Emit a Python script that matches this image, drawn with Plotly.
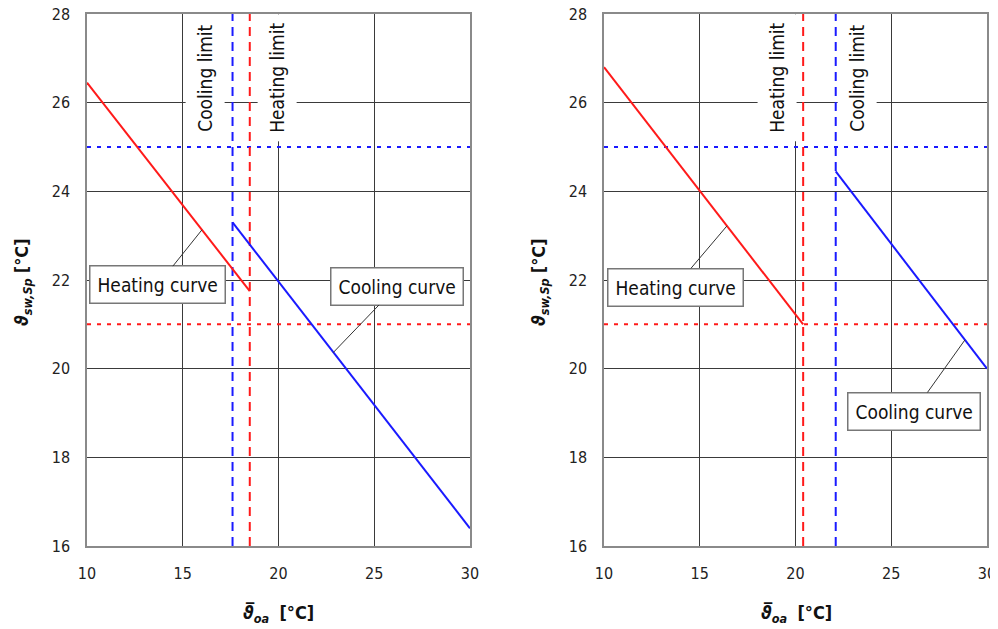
import plotly.graph_objects as go

# ---------------- data ----------------
x_range = [10, 30]
y_range = [16, 28]
x_ticks = [10, 15, 20, 25, 30]
y_ticks = [16, 18, 20, 22, 24, 26, 28]

heating_setpoint = 21
cooling_setpoint = 25

# left chart
heat_left_x = [10, 18.5]
heat_left_y = [26.45, 21.75]
cool_left_x = [17.6, 30]
cool_left_y = [23.3, 16.4]
heat_limit_left = 18.5
cool_limit_left = 17.6

# right chart
heat_right_x = [10, 20.4]
heat_right_y = [26.8, 21.0]
cool_right_x = [22.1, 30]
cool_right_y = [24.45, 20.0]
heat_limit_right = 20.4
cool_limit_right = 22.1

RED = "#ff1a1a"
BLUE = "#1a1aff"
FONT = "DejaVu Sans Condensed, DejaVu Sans, sans-serif"

# page body has an 8px margin; the figure is sized to fit the window
W, H = 990, 621
OFF = 8


def fx(px):
    return (px - OFF) / W


def fy(py):
    return 1 - (py - OFF) / H


fig = go.Figure()


def add_panel(xa, ya, hx, hy, cx, cy, hlim, clim):
    xr = "x" if xa == 1 else f"x{xa}"
    yr = "y" if ya == 1 else f"y{ya}"
    # setpoint dotted lines
    fig.add_trace(go.Scatter(x=x_range, y=[cooling_setpoint] * 2, mode="lines",
                             line=dict(color=BLUE, width=2, dash="4px,6px"),
                             xaxis=xr, yaxis=yr, showlegend=False, hoverinfo="skip"))
    fig.add_trace(go.Scatter(x=x_range, y=[heating_setpoint] * 2, mode="lines",
                             line=dict(color=RED, width=2, dash="4px,6px"),
                             xaxis=xr, yaxis=yr, showlegend=False, hoverinfo="skip"))
    # limits
    fig.add_trace(go.Scatter(x=[clim, clim], y=y_range, mode="lines",
                             line=dict(color=BLUE, width=2, dash="9px,6px"),
                             xaxis=xr, yaxis=yr, showlegend=False, hoverinfo="skip"))
    fig.add_trace(go.Scatter(x=[hlim, hlim], y=y_range, mode="lines",
                             line=dict(color=RED, width=2, dash="9px,6px"),
                             xaxis=xr, yaxis=yr, showlegend=False, hoverinfo="skip"))
    # curves
    fig.add_trace(go.Scatter(x=hx, y=hy, mode="lines", line=dict(color=RED, width=2),
                             xaxis=xr, yaxis=yr, showlegend=False, hoverinfo="skip"))
    fig.add_trace(go.Scatter(x=cx, y=cy, mode="lines", line=dict(color=BLUE, width=2),
                             xaxis=xr, yaxis=yr, showlegend=False, hoverinfo="skip"))


add_panel(1, 1, heat_left_x, heat_left_y, cool_left_x, cool_left_y, heat_limit_left, cool_limit_left)
add_panel(2, 2, heat_right_x, heat_right_y, cool_right_x, cool_right_y, heat_limit_right, cool_limit_right)

axis_common = dict(range=x_range, tickvals=x_ticks, showgrid=True, gridcolor="#3a3a3a", gridwidth=1,
                   showline=True, linecolor="#8a8a8a", linewidth=1.5, mirror=True, zeroline=False,
                   ticks="", tickfont=dict(family=FONT, size=16, color="#222"), fixedrange=True,
                   automargin=False, ticklabeloverflow="allow")
yaxis_common = dict(range=y_range, tickvals=y_ticks, showgrid=True, gridcolor="#3a3a3a", gridwidth=1,
                    showline=True, linecolor="#8a8a8a", linewidth=1.5, mirror=True, zeroline=False,
                    ticks="", tickfont=dict(family=FONT, size=16, color="#222"), fixedrange=True,
                    automargin=False, ticklabeloverflow="allow")

fig.update_layout(
    width=W, height=H,
    margin=dict(l=0, r=0, t=0, b=0, autoexpand=False),
    paper_bgcolor="white", plot_bgcolor="white",
    xaxis=dict(domain=[fx(87), fx(470)], anchor="y", ticklabelstandoff=12, **axis_common),
    yaxis=dict(domain=[fy(546), fy(14)], anchor="x", ticklabelstandoff=12, **yaxis_common),
    xaxis2=dict(domain=[fx(604), fx(987)], anchor="y2", ticklabelstandoff=12, **axis_common),
    yaxis2=dict(domain=[fy(546), fy(14)], anchor="x2", ticklabelstandoff=12, **yaxis_common),
)

ann = []


def limit_label(text, x, xr, yr):
    ann.append(dict(text=text, x=x, y=26.56, xref=xr, yref=yr, showarrow=False, textangle=-90,
                    bgcolor="white", borderpad=8, font=dict(family=FONT, size=19, color="#111")))


def curve_label(text, tx, ty, px, py, xr, yr):
    ann.append(dict(text=text, x=px, y=py, ax=tx, ay=ty, xref=xr, yref=yr, axref=xr, ayref=yr,
                    showarrow=True, arrowhead=0, arrowwidth=1, arrowcolor="#333",
                    bgcolor="white", bordercolor="#777", borderwidth=1.5, borderpad=7,
                    font=dict(family=FONT, size=19, color="#111")))


limit_label("Cooling limit", 16.16, "x", "y")
limit_label("Heating limit", 19.92, "x", "y")
limit_label("Heating limit", 19.03, "x2", "y2")
limit_label("Cooling limit", 23.21, "x2", "y2")

curve_label("Heating curve", 13.7, 21.89, 16.0, 23.13, "x", "y")
curve_label("Cooling curve", 26.19, 21.86, 22.85, 20.36, "x", "y")
curve_label("Heating curve", 13.71, 21.84, 16.42, 23.22, "x2", "y2")
curve_label("Cooling curve", 26.19, 19.04, 28.85, 20.65, "x2", "y2")

ytitle = "<b><i>ϑ</i></b><b><i><sub>sw,Sp</sub></i></b> <b>[°C]</b>"
xtitle = "<b><i>ϑ\u0305</i></b><b><i><sub>oa</sub></i></b>  <b>[°C]</b>"
for px in [23, 540]:
    ann.append(dict(text=ytitle, x=fx(px), y=fy(282), xref="paper", yref="paper", showarrow=False,
                    textangle=-90, xanchor="center", yanchor="middle",
                    font=dict(family=FONT, size=18, color="#111")))
for px in [278, 796]:
    ann.append(dict(text=xtitle, x=fx(px), y=fy(614), xref="paper", yref="paper", showarrow=False,
                    xanchor="center", yanchor="middle",
                    font=dict(family=FONT, size=18, color="#111")))

fig.update_layout(annotations=ann)
fig.write_html("out.html")
